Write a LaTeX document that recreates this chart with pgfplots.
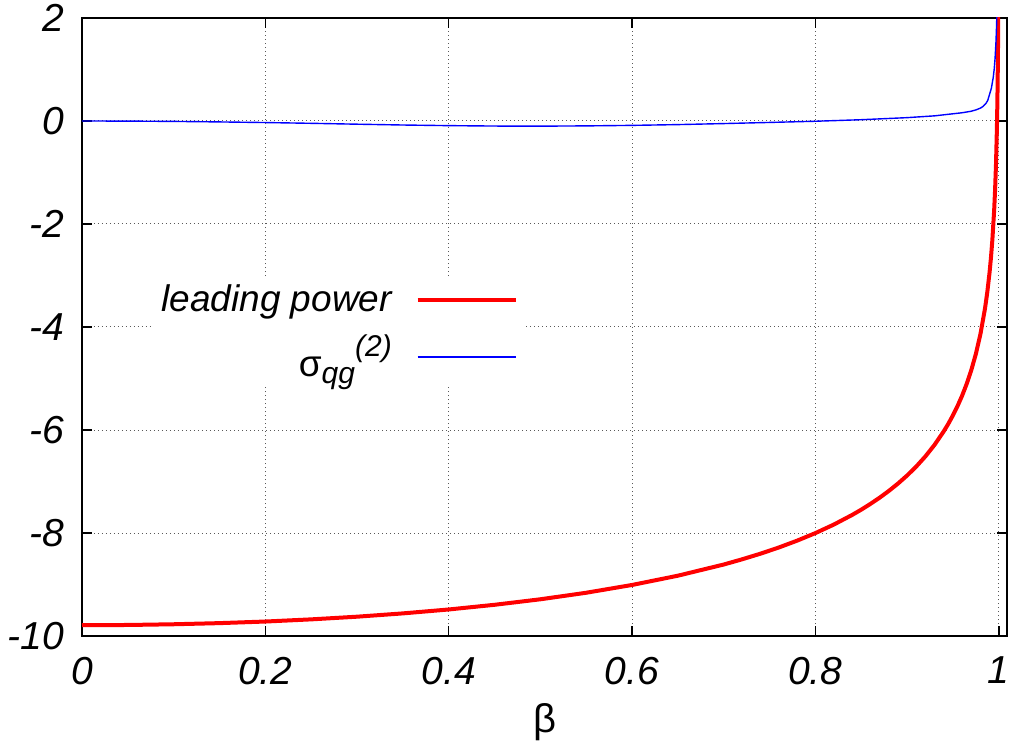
\documentclass[border=0pt]{standalone}
\usepackage{fontspec}
\setmainfont{Liberation Sans}
\usepackage{pgfplots}
\pgfplotsset{compat=1.18}
\begin{document}
\begin{tikzpicture}
\begin{axis}[name=ax, at={(0,0)}, anchor=south west,
  scale only axis, width=462.5pt, height=309pt,
  xmin=0, xmax=1.009, ymin=-10, ymax=2,
  xtick={0,0.2,0.4,0.6,0.8,1},
  ytick={-10,-8,-6,-4,-2,0,2},
  tick align=inside, major tick length=5pt,
  axis line style={line width=1pt},
  every tick/.style={black, line width=0.75pt},
  grid=major,
  major grid style={gray!70!black, line width=0.5pt, dash pattern=on 0.6pt off 1.4pt},
  /pgf/number format/assume math mode=true,
  tick label style={font=\fontsize{19.5}{23}\selectfont\itshape},
  yticklabel style={xshift=-5.5pt},
  xticklabel style={yshift=-7pt},
  xlabel={β}, xlabel style={font=\fontsize{20}{24}\selectfont, yshift=-2.5pt},
  legend plot pos=right,
  legend cell align=right,
  legend image code/.code={\path (0pt,0pt); \draw[#1] (10pt,0pt) -- (59pt,0pt);},
  legend style={draw=none, fill=white, at={(0.478,0.582)}, anchor=north east,
    font=\fontsize{18.5}{22}\selectfont\itshape, row sep=6pt},
]
\addplot[red, line width=2pt] coordinates {
(0,-9.790) (0.05,-9.786) (0.1,-9.772) (0.15,-9.750) (0.2,-9.719) (0.25,-9.677)
(0.3,-9.625) (0.35,-9.561) (0.4,-9.485) (0.45,-9.394) (0.5,-9.287) (0.55,-9.160)
(0.6,-9.009) (0.65,-8.829) (0.7,-8.612) (0.72,-8.511) (0.74,-8.402) (0.76,-8.282)
(0.78,-8.149) (0.8,-8.002) (0.82,-7.837) (0.84,-7.650) (0.85,-7.547) (0.86,-7.435)
(0.87,-7.315) (0.88,-7.184) (0.89,-7.041) (0.9,-6.884) (0.91,-6.709) (0.92,-6.512)
(0.93,-6.287) (0.94,-6.026) (0.945,-5.879) (0.95,-5.716) (0.955,-5.536) (0.96,-5.335)
(0.965,-5.105) (0.97,-4.840) (0.975,-4.525) (0.98,-4.139) (0.985,-3.640) (0.9875,-3.324)
(0.99,-2.935) (0.9915,-2.652) (0.993,-2.314) (0.995,-1.727) (0.996,-1.337) (0.997,-0.834)
(0.998,-0.126) (0.9985,0.377) (0.999,1.086) (0.9992,1.477) (0.9994,1.98) (0.9996,2.69)
};
\addlegendentry{leading power}
\addplot[blue, line width=0.7pt] coordinates {
(0,0) (0.05,-0.002) (0.1,-0.008) (0.15,-0.018) (0.2,-0.03) (0.25,-0.045)
(0.3,-0.062) (0.35,-0.078) (0.4,-0.09) (0.45,-0.098) (0.5,-0.1) (0.55,-0.095)
(0.6,-0.085) (0.65,-0.07) (0.7,-0.05) (0.75,-0.028) (0.8,-0.005) (0.85,0.025)
(0.9,0.065) (0.93,0.1) (0.95,0.14) (0.96,0.16) (0.97,0.19) (0.975,0.215)
(0.98,0.25) (0.983,0.285) (0.986,0.34) (0.988,0.40) (0.99,0.52) (0.992,0.64)
(0.994,0.85) (0.995,1.0) (0.996,1.22) (0.997,1.55) (0.9975,1.8) (0.998,2.1) (0.9985,3)
};
\addlegendentry{{\upshape σ}\raisebox{-3.5pt}{\fontsize{15}{17}\selectfont qg}\raisebox{10pt}{\fontsize{15}{17}\selectfont (2)}}
\end{axis}
\pgfresetboundingbox
\path ([shift={(-41pt,-57pt)}]ax.south west) rectangle ([shift={(4.5pt,9pt)}]ax.north east);
\end{tikzpicture}
\end{document}
